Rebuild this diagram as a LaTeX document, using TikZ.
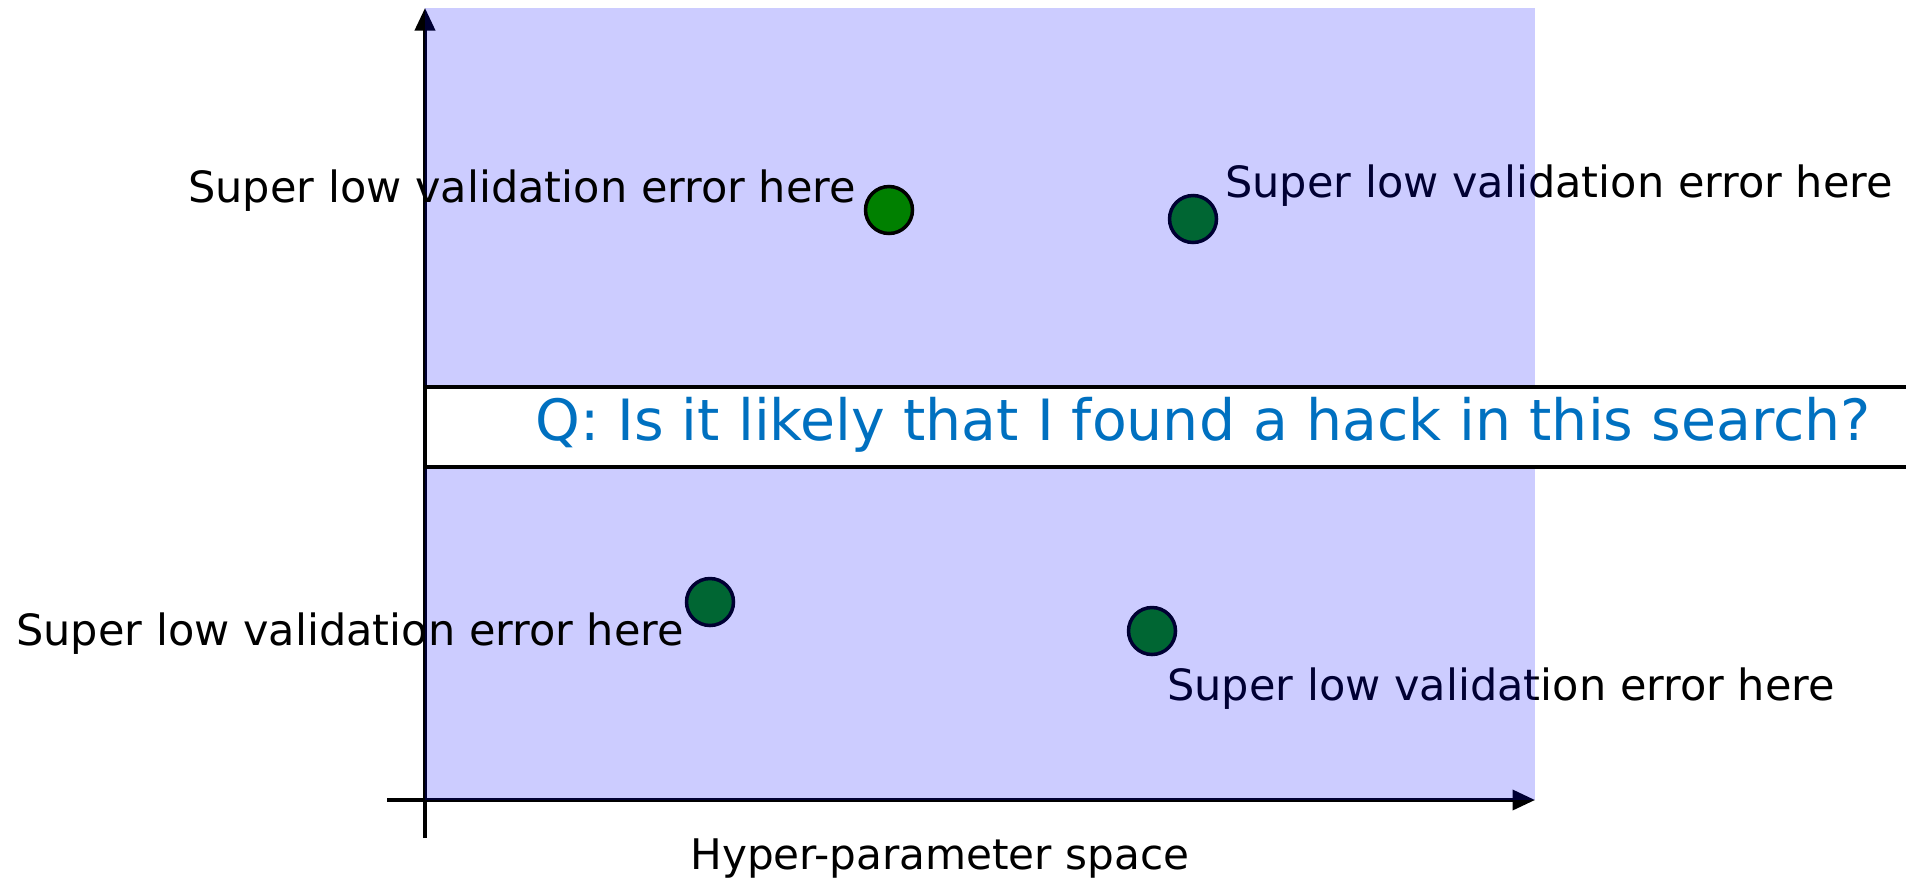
\documentclass[tikz,border=0pt]{standalone}
\usepackage{fontspec}
\setmainfont{DejaVu Sans}
\usetikzlibrary{arrows.meta}
\definecolor{space}{HTML}{0000FF}
\definecolor{qblue}{HTML}{0070C0}
\definecolor{hit}{HTML}{008000}
\tikzset{
  >={Triangle[length=4.5mm,width=4mm]},
  axis/.style={->,line width=2.1pt,draw=black},
  dot/.style={circle,draw=black,line width=2pt,fill=hit,minimum size=9.4mm,inner sep=0pt},
  remark/.style={font=\fontsize{24.5}{28}\selectfont,inner sep=0pt,anchor=base west},
  question/.style={draw=black,line width=2.1pt,fill=white,inner sep=0pt},
}

\begin{document}
\begin{tikzpicture}[x=0.02cm,y=-0.02cm]
\useasboundingbox (0,0) rectangle (1906,877);

% axes
\coordinate (origin) at (425,800);
\draw[axis] (425,838) -- (425,8);
\draw[axis] (387,800) -- (1535,800);

% points lying below the search region
\node[dot] (hitb) at (1193,219) {};
\node[dot] (hitc) at (710,602) {};
\node[dot] (hitd) at (1152,631) {};
\node[remark] (remb) at (1225,197) {Super low validation error here};
\node[remark] (remd) at (1167,700) {Super low validation error here};

% search region
\fill[space,fill opacity=0.2] (425,8) rectangle (1535,800);

\node[dot] (hita) at (889,210) {};
\node[remark] (rema) at (188,202) {Super low validation error here};
\node[remark] (remc) at (16,645) {Super low validation error here};

% question
\draw[question] (425,387) rectangle (1912,467);
\node[remark,font=\fontsize{32.4}{36}\selectfont,text=qblue] (ask) at (535,440) {Q: Is it likely that I found a hack in this search?};

\node[remark,font=\fontsize{24}{28}\selectfont] (xlabel) at (690,869) {Hyper-parameter space};

\end{tikzpicture}
\end{document}
